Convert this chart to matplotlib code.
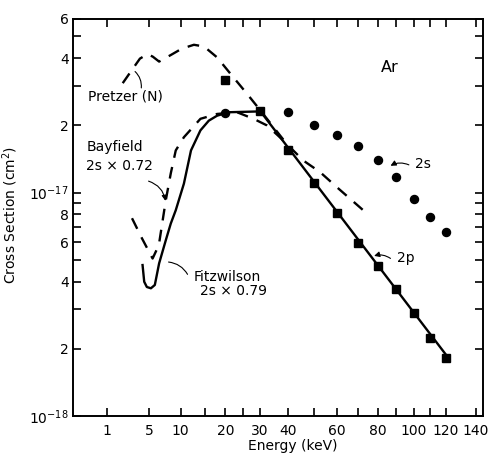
import numpy as np
import matplotlib.pyplot as plt

# energies in keV, cross sections in units of 1e-17 cm^2
p2_energy = [20, 30, 40, 50, 60, 70, 80, 90, 100, 110, 120]
p2_sigma = [3.2, 2.31, 1.55, 1.1, 0.81, 0.595, 0.469, 0.369, 0.290, 0.223, 0.1815]

s2_energy = [20, 40, 50, 60, 70, 80, 90, 100, 110, 120]
s2_sigma = [2.28, 2.29, 2.0, 1.81, 1.61, 1.40, 1.17, 0.934, 0.778, 0.667]

pretzer_energy = [2.13, 3.07, 3.86, 4.79, 5.49, 6.39, 8.24, 10.2, 12.6, 14.8, 17.9,
                  21.4, 26.1, 30.3, 34.7, 39.4, 45.8, 52.6, 59.9, 72.6]
pretzer_sigma = [3.09, 3.58, 3.98, 4.17, 4.06, 3.86, 4.13, 4.41, 4.59, 4.51, 4.03,
                 3.40, 2.77, 2.33, 1.96, 1.65, 1.39, 1.236, 1.06, 0.834]

bayfield_energy = [3.0, 4.09, 5.46, 6.35, 7.42, 8.24, 9.10, 10.6, 14.0, 17.9, 23.2,
                   28.1, 32.4, 38.2]
bayfield_sigma = [0.768, 0.625, 0.507, 0.582, 0.924, 1.22, 1.545, 1.77, 2.14, 2.25, 2.29,
                  2.14, 2.0, 1.71]

fitz_energy = [4.17, 4.37, 4.70, 5.23, 5.77, 6.39, 7.42, 8.24, 9.10, 10.6, 12.0, 14.0,
               15.9, 17.9, 20.9, 30.3, 121.6]
fitz_sigma = [0.474, 0.399, 0.378, 0.373, 0.386, 0.482, 0.612, 0.727, 0.834, 1.097, 1.545,
              1.90, 2.10, 2.21, 2.29, 2.31, 0.1815]

xtick_values = [1, 5, 10, 15, 20, 25, 30, 40, 50, 60, 70, 80, 90, 100, 110, 120, 140]
xtick_labels = ['1', '5', '10', '', '20', '', '30', '40', '', '60', '', '80', '', '100',
                '', '120', '140']

ytick_values = [1, 2, 3, 4, 5, 6, 7, 8, 9, 10, 20, 30, 40, 50, 60]
ytick_labels = ['$10^{-18}$', '2', '', '4', '', '6', '', '8', '', '$10^{-17}$', '2', '',
                '4', '', '6']

S = 1e-17
plt.rcParams['font.family'] = 'DejaVu Sans'
plt.rcParams['font.size'] = 10

fig = plt.figure(figsize=(4.9, 4.55), dpi=100)
ax = fig.add_axes([0.149, 0.0857, 0.837, 0.873])

ax.set_xscale('function', functions=(lambda x: np.sqrt(np.clip(x, 0, None)),
                                     lambda x: np.square(x)))
ax.set_yscale('log')

lw = 1.7
ax.plot(pretzer_energy, np.array(pretzer_sigma) * S, 'k', lw=lw, dashes=(5, 4))
ax.plot(bayfield_energy, np.array(bayfield_sigma) * S, 'k', lw=lw, dashes=(5, 4))
ax.plot(fitz_energy, np.array(fitz_sigma) * S, 'k', lw=lw)
ax.plot(p2_energy, np.array(p2_sigma) * S, 'ks', ms=6)
ax.plot(s2_energy, np.array(s2_sigma) * S, 'ko', ms=5.8)

ax.set_xlim(0, 145)
ax.set_ylim(1e-18, 6e-17)

ax.set_xticks(xtick_values, xtick_labels)
ax.set_yticks([v * 1e-18 for v in ytick_values], ytick_labels)
ax.minorticks_off()
ax.tick_params(direction='in', length=6, width=1.2, top=True, right=True,
               labeltop=False, labelright=False)
ax.tick_params(axis='x', pad=6)
ax.tick_params(axis='y', pad=3)
for sp in ax.spines.values():
    sp.set_linewidth(1.4)

ax.set_xlabel('Energy (keV)')
ax.set_ylabel('Cross Section (cm$^2$)')
ax.xaxis.set_label_coords(0.536, -0.058)
ax.yaxis.set_label_coords(-0.13, 0.506)

# labels and pointers
ax.text(86.5, 3.63 * S, 'Ar', ha='center', va='center', fontsize=11.5)
ax.text(0.2, 2.69 * S, 'Pretzer (N)', ha='left', va='center')
ax.annotate('', xy=(3.10, 3.55 * S), xytext=(3.98, 2.86 * S),
            arrowprops=dict(arrowstyle='-', lw=0.8, connectionstyle='arc3,rad=0.3'))
ax.text(0.15, 1.6 * S, 'Bayfield', ha='left', va='center')
ax.text(0.15, 1.31 * S, '2s × 0.72', ha='left', va='center')
ax.annotate('', xy=(7.42, 0.893 * S), xytext=(4.58, 1.135 * S),
            arrowprops=dict(arrowstyle='-|>', lw=0.8, mutation_scale=8,
                            connectionstyle='arc3,rad=-0.35', color='k'))
ax.text(12.5, 0.42 * S, 'Fitzwilson', ha='left', va='center')
ax.text(14.0, 0.364 * S, '2s × 0.79', ha='left', va='center')
ax.annotate('', xy=(7.42, 0.49 * S), xytext=(11.57, 0.42 * S),
            arrowprops=dict(arrowstyle='-', lw=0.8, connectionstyle='arc3,rad=0.3'))
ax.text(100.6, 1.34 * S, '2s', ha='left', va='center')
ax.annotate('', xy=(85.6, 1.30 * S), xytext=(98.7, 1.315 * S),
            arrowprops=dict(arrowstyle='-|>', lw=0.8, mutation_scale=8,
                            connectionstyle='arc3,rad=0.3', color='k'))
ax.text(90.3, 0.509 * S, '2p', ha='left', va='center')
ax.annotate('', xy=(76.8, 0.516 * S), xytext=(88.1, 0.499 * S),
            arrowprops=dict(arrowstyle='-|>', lw=0.8, mutation_scale=8,
                            connectionstyle='arc3,rad=0.3', color='k'))

fig.savefig('out.png', dpi=100)
